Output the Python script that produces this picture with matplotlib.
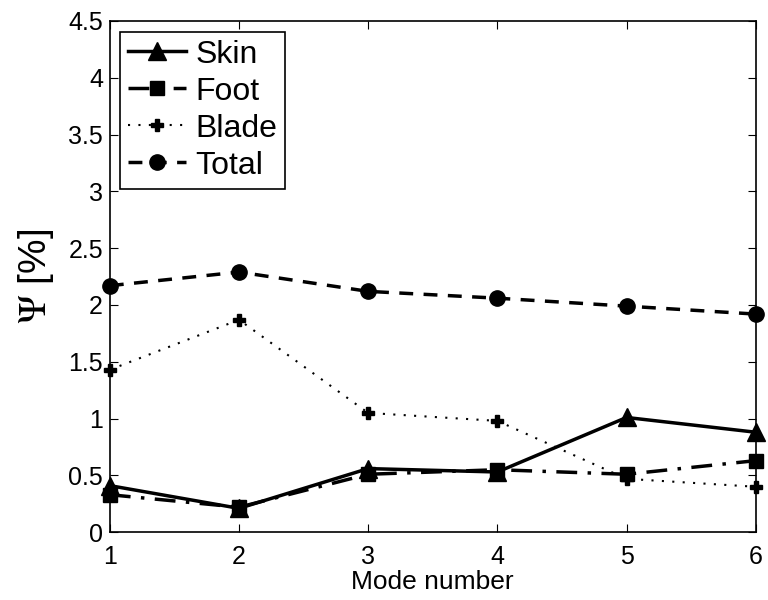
import matplotlib
matplotlib.use('Agg')
import matplotlib.pyplot as plt

plt.rcParams['font.family'] = ['Liberation Sans', 'DejaVu Sans']
plt.rcParams['mathtext.fontset'] = 'stix'

modes = [1, 2, 3, 4, 5, 6]
skin = [0.41, 0.21, 0.56, 0.53, 1.01, 0.88]
foot = [0.33, 0.22, 0.51, 0.55, 0.51, 0.63]
blade = [1.43, 1.87, 1.05, 0.98, 0.47, 0.40]
total = [2.17, 2.29, 2.12, 2.06, 1.99, 1.92]

fig = plt.figure(figsize=(7.68, 6), dpi=100)
ax = fig.add_axes([0.143, 0.113, 0.841, 0.852])

ax.plot(modes, skin, '-', color='k', lw=2.5, marker='^', ms=13, label='Skin', clip_on=False)
ax.plot(modes, foot, color='k', lw=2.5, dashes=(6, 3, 1, 3), marker='s', ms=9.5, label='Foot', clip_on=False)
ax.plot(modes, blade, color='k', lw=1.5, dashes=(1, 4), marker='P', ms=8, label='Blade', clip_on=False)
ax.plot(modes, total, color='k', lw=2.5, dashes=(4, 3), marker='o', ms=11, label='Total', clip_on=False)

ax.set_xlim(1, 6)
ax.set_ylim(0, 4.5)
ax.set_xticks(modes)
ax.set_yticks([0, 0.5, 1, 1.5, 2, 2.5, 3, 3.5, 4, 4.5])
ax.set_yticklabels(['0', '0.5', '1', '1.5', '2', '2.5', '3', '3.5', '4', '4.5'])
ax.tick_params(direction='in', top=True, right=True, labelsize=18, length=6, width=0.8)
ax.tick_params(axis='x', pad=9)
ax.tick_params(axis='y', pad=5)
for s in ax.spines.values():
    s.set_linewidth(1.2)

ax.set_xlabel('Mode number', fontsize=19, labelpad=1)
ax.set_ylabel(r'$\Psi$ [%]', fontsize=28, labelpad=9)

leg = ax.legend(loc='upper left', fontsize=23, frameon=True, fancybox=False,
                edgecolor='k', framealpha=1, handlelength=1.8, handletextpad=0.3,
                labelspacing=0.22, borderpad=0.25, borderaxespad=0.33)
leg.get_frame().set_linewidth(1.2)

fig.savefig('out.png', dpi=100)
